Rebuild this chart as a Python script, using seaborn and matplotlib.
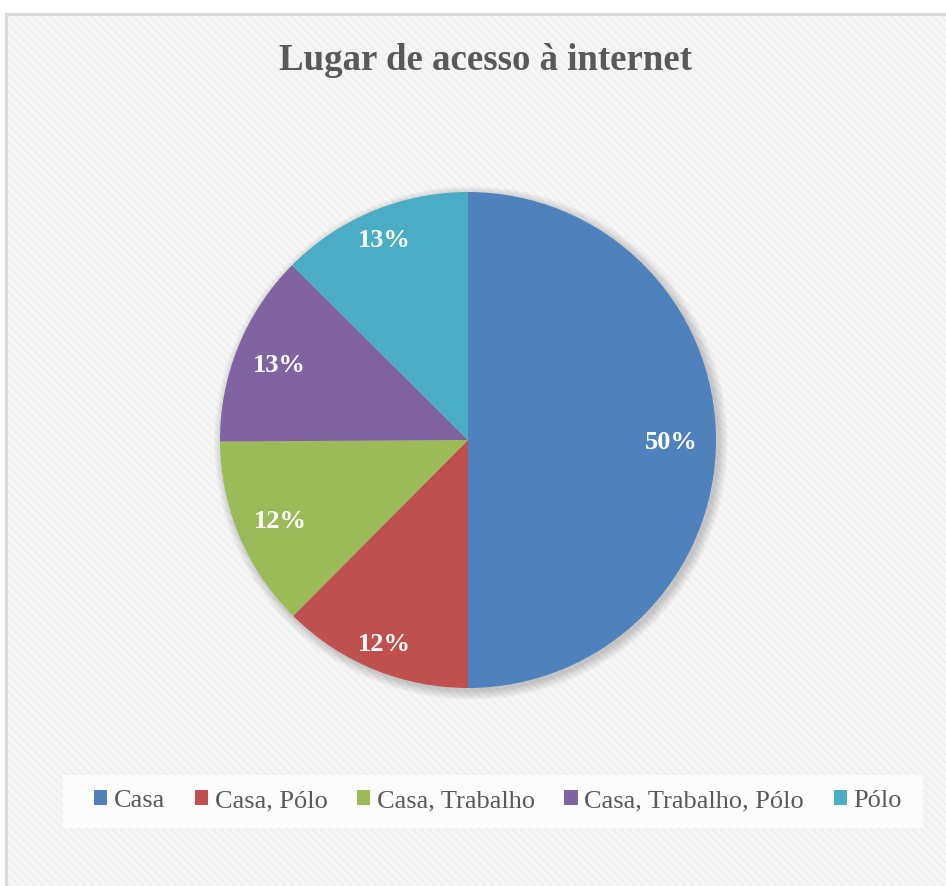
import matplotlib
matplotlib.use("Agg")
import numpy as np
import matplotlib.pyplot as plt
from matplotlib.patches import Rectangle, Circle
import seaborn as sns

# Data
categories = ["Casa", "Casa, Pólo", "Casa, Trabalho", "Casa, Trabalho, Pólo", "Pólo"]
shares = [50, 12.45, 12.45, 12.55, 12.55]
slice_colors = ["#4F81BD", "#C0504D", "#9BBB59", "#8064A2", "#4BACC6"]
title_text = "Lugar de acesso à internet"

# radial placement of the percentage labels (fraction of radius)
label_dist = [0.82, 0.88, 0.82, 0.82, 0.88]

sns.set_theme(style="white")
plt.rcParams["font.family"] = ["Liberation Serif", "DejaVu Serif"]
plt.rcParams["hatch.linewidth"] = 1.0

W, H = 946, 886
fig = plt.figure(figsize=(W / 100, H / 100), dpi=100)
fig.patch.set_facecolor("white")

def px_rect(x0, y0, x1, y1, **kw):
    """Rectangle given in pixel coordinates (origin top-left)."""
    return Rectangle((x0 / W, 1 - y1 / H), (x1 - x0) / W, (y1 - y0) / H,
                     transform=fig.transFigure, **kw)

# Chart area with a faint diagonal texture and light border
fig.patches.append(px_rect(6, 14, 960, 900, facecolor="#f6f6f6", edgecolor="#eeeeee",
                           hatch="\\\\\\\\", linewidth=0, zorder=-3))
fig.patches.append(px_rect(6, 14, 960, 900, facecolor="none", edgecolor="#d9d9d9",
                           linewidth=2.2, zorder=-2))
# Legend background
fig.patches.append(px_rect(63, 775, 923, 828, facecolor="#fcfcfc", edgecolor="none",
                           linewidth=0, zorder=-1))

# Pie axes: center (468, 440), radius 248 px
cx, cy, r = 468, 440, 248
ax = fig.add_axes([(cx - r) / W, 1 - (cy + r) / H, 2 * r / W, 2 * r / H])
ax.set_facecolor("none")
ax.set_zorder(5)

# soft shadow behind the pie
for i in range(10):
    ax.add_patch(Circle((0.012, -0.012), 1.0 + i * 0.004, facecolor="black",
                        edgecolor="none", alpha=0.018, clip_on=False, zorder=0))

wedges, texts, autotexts = ax.pie(
    shares, colors=slice_colors, startangle=90, counterclock=False, radius=1,
    autopct=lambda p: f"{p:.0f}%", pctdistance=0.84,
    wedgeprops=dict(linewidth=0, edgecolor="none"),
    textprops=dict(color="white", fontsize=19, fontweight="bold"),
)
for w in wedges:
    w.set_zorder(2)

# place each percentage label along its wedge's mid-angle
half_digit = 8.8 / r
for w, t, d in zip(wedges, autotexts, label_dist):
    mid = np.deg2rad((w.theta1 + w.theta2) / 2)
    t.set_position((d * np.cos(mid), d * np.sin(mid) - half_digit))
    t.set_verticalalignment("baseline")
    t.set_zorder(3)

ax.set_xlim(-1, 1)
ax.set_ylim(-1, 1)
ax.set_aspect("equal")
ax.axis("off")

# Title
fig.text(485.5 / W, 1 - 70 / H, title_text, ha="center", va="baseline",
         fontsize=26.6, fontweight="bold", color="#595959")

# Legend
leg = fig.legend(wedges, categories, loc="center", bbox_to_anchor=(498 / W, 1 - 801 / H),
                 ncol=5, frameon=False, fontsize=19, handlelength=0.5, handleheight=0.5,
                 handletextpad=0.25, columnspacing=1.12, borderaxespad=0)
leg.set_zorder(6)
for t in leg.get_texts():
    t.set_color("#595959")

fig.savefig("out.png", dpi=100, facecolor="white")
